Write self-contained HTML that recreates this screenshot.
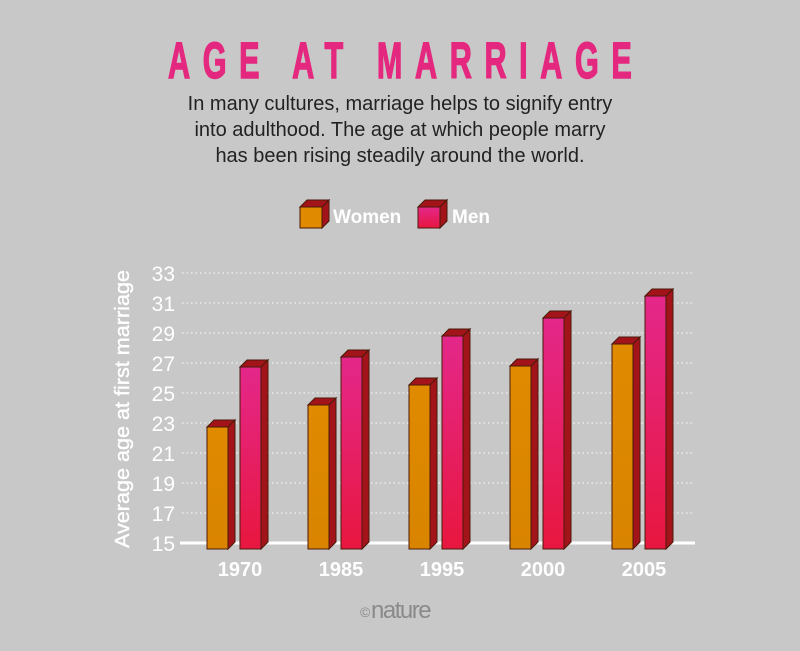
<!DOCTYPE html>
<html><head><meta charset="utf-8"><style>
html,body{margin:0;padding:0;background:#c8c8c8;}
svg{display:block;}
text{font-family:"Liberation Sans",sans-serif;}
</style></head><body>
<svg width="800" height="651" viewBox="0 0 800 651" xmlns="http://www.w3.org/2000/svg">
<defs>
<linearGradient id="pk" x1="0" y1="0" x2="0" y2="1"><stop offset="0" stop-color="#e4278a"/><stop offset="1" stop-color="#e8173f"/></linearGradient>
<linearGradient id="or" x1="0" y1="0" x2="0" y2="1"><stop offset="0" stop-color="#e08a00"/><stop offset="1" stop-color="#d98400"/></linearGradient>
</defs>
<rect width="800" height="651" fill="#c8c8c8"/>
<text transform="translate(168,78) scale(0.6,1)" font-size="51" font-weight="bold" fill="#e5287f" stroke="#e5287f" stroke-width="1.5" textLength="773" lengthAdjust="spacing">AGE AT MARRIAGE</text>
<g font-size="20" fill="#222" text-anchor="middle">
<text x="400" y="110">In many cultures, marriage helps to signify entry</text>
<text x="400" y="136">into adulthood. The age at which people marry</text>
<text x="400" y="162">has been rising steadily around the world.</text>
</g>
<g stroke="#4a1a0a" stroke-width="1">
<polygon points="300,207 307,200 329,200 322,207" fill="#a3141a"/>
<polygon points="322,207 329,200 329,221 322,228" fill="#a3141a"/>
<rect x="300" y="207" width="22" height="21" fill="#e08a00"/>
<polygon points="418,207 425,200 447,200 440,207" fill="#a3141a"/>
<polygon points="440,207 447,200 447,221 440,228" fill="#a3141a"/>
<rect x="418" y="207" width="22" height="21" fill="url(#pk)"/>
</g>
<text x="333" y="223" font-size="19" font-weight="bold" fill="#fff">Women</text>
<text x="452" y="223" font-size="19" font-weight="bold" fill="#fff">Men</text>
<g stroke="#f2f2f2" stroke-width="1.3" stroke-dasharray="1.5,3">
<line x1="182" y1="273" x2="695" y2="273"/>
<line x1="182" y1="303" x2="695" y2="303"/>
<line x1="182" y1="333" x2="695" y2="333"/>
<line x1="182" y1="363" x2="695" y2="363"/>
<line x1="182" y1="393" x2="695" y2="393"/>
<line x1="182" y1="423" x2="695" y2="423"/>
<line x1="182" y1="453" x2="695" y2="453"/>
<line x1="182" y1="483" x2="695" y2="483"/>
<line x1="182" y1="513" x2="695" y2="513"/>
</g>
<g font-size="21" fill="#fff" text-anchor="end">
<text x="175" y="281">33</text><text x="175" y="311">31</text><text x="175" y="341">29</text>
<text x="175" y="371">27</text><text x="175" y="401">25</text><text x="175" y="431">23</text>
<text x="175" y="461">21</text><text x="175" y="491">19</text><text x="175" y="521">17</text>
<text x="175" y="551">15</text>
</g>
<text transform="translate(129,409) rotate(-90)" font-size="20" fill="#fff" stroke="#fff" stroke-width="0.4" text-anchor="middle" textLength="278" lengthAdjust="spacingAndGlyphs">Average age at first marriage</text>
<line x1="180" y1="543" x2="695" y2="543" stroke="#fff" stroke-width="3"/>
<g stroke="#4a1a0a" stroke-width="1">
<polygon points="207,427 214,420 235,420 228,427" fill="#a3141a"/><polygon points="228,427 235,420 235,542 228,549" fill="#a3141a"/><rect x="207" y="427" width="21" height="122" fill="url(#or)"/>
<polygon points="240,367 247,360 268,360 261,367" fill="#a3141a"/><polygon points="261,367 268,360 268,542 261,549" fill="#a3141a"/><rect x="240" y="367" width="21" height="182" fill="url(#pk)"/>
<polygon points="308,405 315,398 336,398 329,405" fill="#a3141a"/><polygon points="329,405 336,398 336,542 329,549" fill="#a3141a"/><rect x="308" y="405" width="21" height="144" fill="url(#or)"/>
<polygon points="341,357 348,350 369,350 362,357" fill="#a3141a"/><polygon points="362,357 369,350 369,542 362,549" fill="#a3141a"/><rect x="341" y="357" width="21" height="192" fill="url(#pk)"/>
<polygon points="409,385 416,378 437,378 430,385" fill="#a3141a"/><polygon points="430,385 437,378 437,542 430,549" fill="#a3141a"/><rect x="409" y="385" width="21" height="164" fill="url(#or)"/>
<polygon points="442,336 449,329 470,329 463,336" fill="#a3141a"/><polygon points="463,336 470,329 470,542 463,549" fill="#a3141a"/><rect x="442" y="336" width="21" height="213" fill="url(#pk)"/>
<polygon points="510,366 517,359 538,359 531,366" fill="#a3141a"/><polygon points="531,366 538,359 538,542 531,549" fill="#a3141a"/><rect x="510" y="366" width="21" height="183" fill="url(#or)"/>
<polygon points="543,318 550,311 571,311 564,318" fill="#a3141a"/><polygon points="564,318 571,311 571,542 564,549" fill="#a3141a"/><rect x="543" y="318" width="21" height="231" fill="url(#pk)"/>
<polygon points="612,344 619,337 640,337 633,344" fill="#a3141a"/><polygon points="633,344 640,337 640,542 633,549" fill="#a3141a"/><rect x="612" y="344" width="21" height="205" fill="url(#or)"/>
<polygon points="645,296 652,289 673,289 666,296" fill="#a3141a"/><polygon points="666,296 673,289 673,542 666,549" fill="#a3141a"/><rect x="645" y="296" width="21" height="253" fill="url(#pk)"/>
</g>
<g font-size="20" font-weight="bold" fill="#fff" text-anchor="middle">
<text x="240" y="576">1970</text><text x="341" y="576">1985</text><text x="442" y="576">1995</text>
<text x="543" y="576">2000</text><text x="644" y="576">2005</text>
</g>
<text x="360" y="617" font-size="14" fill="#8a8a8a" font-family="Liberation Serif,serif">©</text>
<text x="371" y="618" font-size="24" fill="#8a8a8a" font-family="Liberation Serif,serif" letter-spacing="-1.5">nature</text>
</svg>
</body></html>
